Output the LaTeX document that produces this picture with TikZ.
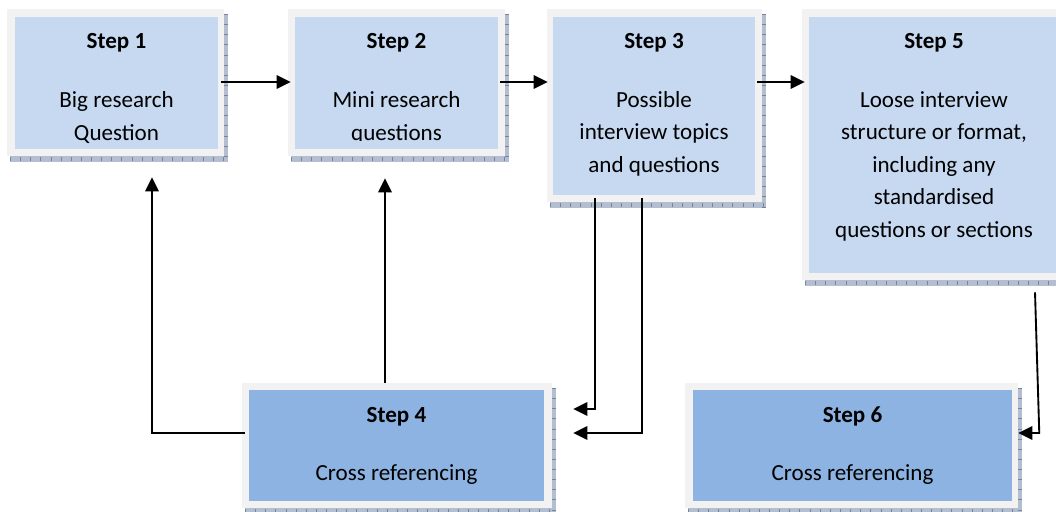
\documentclass[tikz,border=0pt]{standalone}
\usepackage{fontspec}
\setmainfont{Carlito}
\usetikzlibrary{arrows.meta,calc,fit}
\definecolor{lightbox}{HTML}{C6D9F1}
\definecolor{darkbox}{HTML}{8DB3E2}
\definecolor{framegray}{HTML}{F2F2F2}
\definecolor{shadowfill}{HTML}{B3BED0}
\definecolor{shadowtick}{HTML}{76849C}
\newcommand\shadowband[4]{%
  \fill[shadowfill] (#1+3,#4) rectangle (#3+4,#4+6);
  \fill[shadowfill] (#3,#2+5) rectangle (#3+4,#4+6);
  \draw[shadowtick, line width=3pt, dash pattern=on 0.6pt off 7pt] (#1+3,#4+3) -- (#3+4,#4+3);
  \draw[shadowtick, line width=2.5pt, dash pattern=on 0.6pt off 7pt] (#3+2,#2+5) -- (#3+2,#4+6);
}
\begin{document}
\begin{tikzpicture}[x=0.75pt,y=-0.75pt,
  frame/.style={fill=framegray, inner sep=0pt, draw=none},
  lightin/.style={fill=lightbox, inner sep=0pt, draw=none},
  darkin/.style={fill=darkbox, inner sep=0pt, draw=none},
  title/.style={anchor=base, inner sep=0pt, font=\fontsize{17.3}{20}\selectfont\bfseries},
  body/.style={anchor=base, inner sep=0pt, font=\fontsize{17.3}{20}\selectfont},
  arr/.style={line width=1.4pt, -{Triangle[length=10.5pt,width=10pt]}}]
\clip (0,0) rectangle (1056,511);
\fill[white] (0,0) rectangle (1056,511);

% shadows
\shadowband{7}{9}{224}{156}
\shadowband{288}{9}{505}{156}
\shadowband{547}{9}{762}{202}
\shadowband{802}{9}{1066}{280}
\shadowband{242}{383}{552}{508}
\shadowband{685}{383}{1018}{508}

% frames and boxes
\node[frame, fit={(7,9) (224,156)}] (s1) {};
\node[lightin, fit={(15,17) (218,149)}] (s1in) {};
\node[frame, fit={(288,9) (505,156)}] (s2) {};
\node[lightin, fit={(295,17) (498,149)}] (s2in) {};
\node[frame, fit={(547,9) (762,202)}] (s3) {};
\node[lightin, fit={(553,17) (755,195)}] (s3in) {};
\node[frame, fit={(802,9) (1066,280)}] (s5) {};
\node[lightin, fit={(809,17) (1059,273)}] (s5in) {};
\node[frame, fit={(242,383) (552,508)}] (s4) {};
\node[darkin, fit={(249,390) (544,501)}] (s4in) {};
\node[frame, fit={(685,383) (1018,508)}] (s6) {};
\node[darkin, fit={(693,390) (1012,501)}] (s6in) {};

% texts
\node[title] (t1) at (116.5,48) {Step 1};
\node[body] (b1a) at (116.5,107) {Big research};
\node[body] (b1b) at (116.5,140) {Question};

\node[title] (t2) at (396.5,48) {Step 2};
\node[body] (b2a) at (396.5,107) {Mini research};
\begin{scope}
  \clip (295,17) rectangle (498,140);
  \node[body] (b2b) at (396.5,140.5) {questions};
\end{scope}

\node[title] (t3) at (654,48) {Step 3};
\node[body] (b3a) at (654,107) {Possible};
\node[body] (b3b) at (654,139.5) {interview topics};
\node[body] (b3c) at (654,172) {and questions};

\node[title] (t5) at (934,48) {Step 5};
\node[body] (b5a) at (934,107) {Loose interview};
\node[body] (b5b) at (934,139.5) {structure or format,};
\node[body] (b5c) at (934,172) {including any};
\node[body] (b5d) at (934,204.5) {standardised};
\node[body] (b5e) at (934,237) {questions or sections};

\node[title] (t4) at (396.5,422) {Step 4};
\node[body] (b4a) at (396.5,480) {Cross referencing};

\node[title] (t6) at (852.5,422) {Step 6};
\node[body] (b6a) at (852.5,480) {Cross referencing};

% connectors
\coordinate (rowA) at (0,82);
\coordinate (rowB) at (0,433);
\coordinate (rowC) at (0,409);
\coordinate (colA) at (152,0);
\coordinate (colB) at (385,0);
\coordinate (colC) at (595,0);
\coordinate (colD) at (642,0);

\draw[arr, shorten <=2.25pt, shorten >=3pt] (s1in.east |- rowA) -- (s2in.west |- rowA);
\draw[arr, shorten <=1.5pt, shorten >=3.75pt] (s2in.east |- rowA) -- (s3in.west |- rowA);
\draw[arr, shorten <=1.5pt, shorten >=3pt] (s3in.east |- rowA) -- (s5in.west |- rowA);
\draw[arr, shorten <=3pt, shorten >=15.75pt] (s4in.west |- rowB) -| (colA |- s1.south);
\draw[arr, shorten >=16.5pt] (colB |- s4.north) -- (colB |- s2.south);
\draw[arr, shorten <=2.25pt, shorten >=15.75pt] (colC |- s3in.south) |- (s4.east |- rowC);
\draw[arr, shorten <=2.25pt, shorten >=15.75pt] (colD |- s3in.south) |- (s4.east |- rowB);
\draw[arr] ($(s5.south)+(101,12)$) -- ($(s6.east |- rowB)+(21,0)$) -- (s6.east |- rowB);
\end{tikzpicture}
\end{document}
